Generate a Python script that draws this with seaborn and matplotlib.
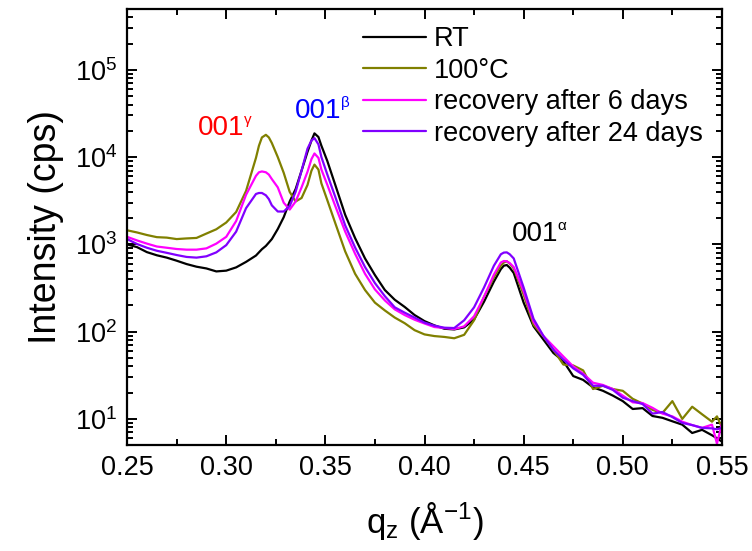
import numpy as np
import pandas as pd
import matplotlib
matplotlib.use("Agg")
import matplotlib.pyplot as plt
import matplotlib.ticker as mticker
import seaborn as sns

# ---------------- data ----------------
q = [0.250, 0.255, 0.260, 0.265, 0.270, 0.275, 0.280, 0.285, 0.290, 0.295,
     0.300, 0.305, 0.310, 0.315, 0.3165, 0.318, 0.320, 0.3215, 0.323, 0.326,
     0.329, 0.332, 0.335, 0.338, 0.341, 0.343, 0.3445, 0.3465, 0.348, 0.351,
     0.355, 0.360, 0.365, 0.370, 0.375, 0.380, 0.385, 0.390, 0.395, 0.400,
     0.405, 0.410, 0.415, 0.420, 0.425, 0.430, 0.435, 0.4385, 0.440, 0.4415,
     0.443, 0.445, 0.450, 0.455, 0.460, 0.465, 0.470, 0.475, 0.480, 0.485,
     0.490, 0.495, 0.500, 0.505, 0.510, 0.515, 0.520, 0.525, 0.530, 0.535,
     0.540, 0.545, 0.5475, 0.550]

rt = [1000, 930, 815, 750, 705, 650, 595, 555, 530, 490,
      500, 545, 630, 745, 810, 880, 960, 1050, 1150, 1500,
      2050, 3100, 4300, 7000, 11500, 15500, 18700, 17000, 13500, 9000,
      4800, 2180, 1180, 690, 445, 300, 232, 192, 155, 132,
      118, 108, 106, 112, 138, 220, 375, 520, 570, 580,
      540, 470, 215, 115, 81, 57, 46, 31, 28, 23,
      21, 18.5, 16, 13, 13.3, 10.8, 10.3, 9.4, 8.6, 6.9,
      7.5, 6.5, 6.0, 5.5]

t100 = [1450, 1370, 1280, 1210, 1195, 1150, 1170, 1185, 1330, 1490,
        1780, 2350, 4100, 9800, 13500, 16800, 18000, 16800, 14500, 10000,
        6600, 4000, 3100, 3400, 4800, 7000, 8200, 7200, 5000, 3200,
        1750, 830, 460, 300, 215, 175, 145, 125, 104, 93,
        89, 87, 84, 92, 135, 250, 420, 570, 620, 640,
        600, 530, 265, 120, 88, 62, 42, 41, 36, 22,
        24, 22, 21, 17, 15, 12.7, 11.7, 16, 10, 13.8,
        11.3, 9.3, 10.7, 8]

rec6 = [1220, 1110, 1020, 945, 915, 885, 870, 870, 900, 1020,
        1220, 1850, 3700, 6100, 6700, 6850, 6700, 6300, 5600, 4500,
        3000, 2500, 3100, 4500, 6800, 9500, 11000, 9800, 7200, 4800,
        2750, 1400, 780, 460, 305, 228, 180, 155, 137, 124,
        113, 110, 107, 115, 150, 250, 450, 620, 645, 640,
        610, 550, 290, 130, 89, 68, 52, 40, 33, 26,
        24.5, 22, 18.5, 15.5, 15.2, 13.4, 11.5, 10.7, 9.3, 8.5,
        7.9, 8.6, 5.2, 8.9]

rec24 = [1150, 1010, 915, 845, 800, 755, 718, 705, 730, 810,
         980, 1400, 2600, 3780, 3880, 3880, 3650, 3300, 2800, 2380,
         2380, 2750, 4000, 7000, 12500, 15500, 16500, 14000, 10000, 6300,
         3500, 1650, 920, 550, 360, 255, 190, 165, 145, 127,
         117, 111, 110, 135, 190, 320, 570, 770, 805, 810,
         770, 690, 320, 140, 89, 62, 48, 38, 32, 24,
         24, 21.5, 17.5, 16, 14.8, 11.5, 12, 10.5, 9, 8.5,
         7.9, 7.8, 7.6, 7.9]

labels = ["RT", "100°C", "recovery after 6 days", "recovery after 24 days"]
colors = ["#000000", "#808000", "#ff00ff", "#8000ff"]

x_ticks = [0.25, 0.30, 0.35, 0.40, 0.45, 0.50, 0.55]

# ---------------- style ----------------
sns.set_style("ticks")
plt.rcParams["font.family"] = ["Liberation Sans", "DejaVu Sans"]
plt.rcParams["mathtext.fontset"] = "custom"
plt.rcParams["mathtext.rm"] = "Liberation Sans"
plt.rcParams["mathtext.it"] = "Liberation Sans"
plt.rcParams["mathtext.bf"] = "Liberation Sans:bold"
plt.rcParams["axes.linewidth"] = 1.6
for key in ["text.color", "axes.labelcolor", "xtick.color", "ytick.color", "axes.edgecolor"]:
    plt.rcParams[key] = "black"

frames = []
for lab, ys in zip(labels, [rt, t100, rec6, rec24]):
    frames.append(pd.DataFrame({"q": q, "I": ys, "sample": lab}))
df = pd.concat(frames, ignore_index=True)

fig = plt.figure(figsize=(7.52, 5.51), dpi=100)
ax = fig.add_axes([0.169, 0.192, 0.791, 0.792])

sns.lineplot(data=df, x="q", y="I", hue="sample", hue_order=labels,
             palette=dict(zip(labels, colors)), estimator=None,
             linewidth=1.6, ax=ax, legend=True)

ax.set_yscale("log")
ax.set_xlim(0.25, 0.55)
ax.set_ylim(5, 5e5)
ax.set_xticks(x_ticks)
ax.xaxis.set_major_formatter(mticker.FormatStrFormatter("%.2f"))
ax.xaxis.set_minor_locator(mticker.MultipleLocator(0.025))
ax.yaxis.set_major_locator(mticker.LogLocator(base=10, numticks=10))
ax.yaxis.set_minor_locator(mticker.LogLocator(base=10, subs=np.arange(2, 10), numticks=20))
ax.yaxis.set_minor_formatter(mticker.NullFormatter())

ax.tick_params(which="both", direction="in", top=True, right=True, width=1.4,
               labelsize=19.5, colors="black")
ax.tick_params(which="major", length=7, pad=7)
ax.tick_params(which="minor", length=4)

ax.set_xlabel(r"q$_\mathregular{z}$ ($\mathregular{\AA}^{\mathregular{-1}}$)", fontsize=25, labelpad=14)
ax.set_ylabel("Intensity (cps)", fontsize=27, labelpad=8)

# peak labels: main number + small superscript greek letter
peaks = [(0.2858, 18000, "γ", "#ff0000"),
         (0.3347, 28000, "β", "#0000ff"),
         (0.4440, 1100, "α", "#000000")]
for px, py, sym, col in peaks:
    t = ax.text(px, py, "001", color=col, fontsize=20, ha="left", va="baseline")
    ax.annotate(sym, xy=(1.0, 1.0), xycoords=t, xytext=(-0.5, 1.5),
                textcoords="offset points", color=col, fontsize=11,
                ha="left", va="top")

leg = ax.legend(loc="upper right", bbox_to_anchor=(0.995, 0.997), frameon=False,
                fontsize=19.5, handlelength=2.3, handletextpad=0.3,
                labelspacing=0.2, borderaxespad=0.2)
for h in leg.get_lines():
    h.set_linewidth(1.6)

fig.savefig("out.png", dpi=100)
